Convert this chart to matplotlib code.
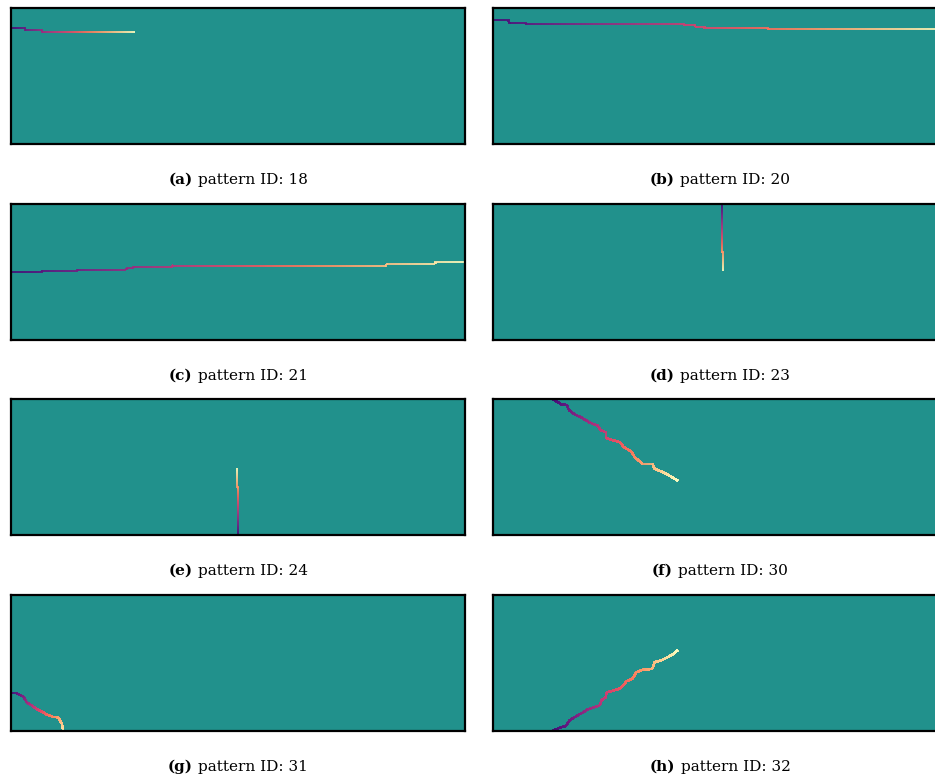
import numpy as np
import matplotlib
matplotlib.use("Agg")
import matplotlib.pyplot as plt
from matplotlib.collections import LineCollection
from matplotlib.offsetbox import TextArea, HPacker, AnchoredOffsetbox

# panel letters and pattern ids
letters = ["a", "b", "c", "d", "e", "f", "g", "h"]
pattern_ids = [18, 20, 21, 23, 24, 30, 31, 32]

# path vertices (x: 0..100 across, y: 0..30 from top)
path_18 = [(0, 4.4), (3.1, 4.9), (6.9, 5.4), (27.4, 5.4)]
path_20 = [(0, 2.7), (3.5, 3.3), (7.2, 3.6), (42.2, 3.8), (44.6, 4.2),
           (46.6, 4.4), (60.6, 4.7), (100, 4.7)]
path_21 = [(0, 15.0), (6.8, 14.7), (14.7, 14.5), (25.4, 14.2), (26.9, 13.8),
           (35.5, 13.6), (82.7, 13.2), (93.4, 12.9), (100, 12.9)]
path_23 = [(50.4, 0), (50.4, 10.6), (50.6, 14.8)]
path_24 = [(50.0, 30), (50.0, 19.5), (49.8, 15.3)]
path_30 = [(13.1, 0), (15.1, 1.2), (16.3, 1.3), (16.7, 2.4), (18.0, 3.4),
           (19.5, 4.1), (21.3, 5.2), (23.1, 5.9), (23.7, 6.9), (24.8, 7.3),
           (24.8, 8.6), (26.4, 9.1), (27.9, 9.5), (28.8, 10.6), (30.5, 11.6),
           (31.2, 12.8), (32.9, 14.3), (35.1, 14.3), (35.6, 15.4), (37.1, 16.0),
           (38.5, 16.7), (40.7, 18.0)]
path_31 = [(0, 21.7), (1.3, 21.7), (2.7, 22.4), (3.5, 23.7), (4.6, 24.4),
           (5.7, 25.2), (7.1, 25.9), (7.9, 26.4), (9.3, 26.9), (10.4, 27.0),
           (11.2, 28.4), (11.5, 29.9), (12.6, 29.9)]
path_32 = [(13.2, 29.9), (14.7, 29.3), (16.0, 28.9), (16.9, 27.6), (18.4, 26.7),
           (19.8, 25.9), (20.9, 25.2), (22.4, 24.7), (23.5, 24.4), (23.9, 23.2),
           (24.8, 22.6), (25.0, 21.5), (26.4, 21.1), (27.8, 20.7), (29.0, 19.6),
           (29.4, 19.0), (30.7, 18.5), (31.6, 17.0), (33.0, 16.5), (35.1, 16.3),
           (35.6, 14.8), (37.1, 14.4), (38.5, 13.7), (39.6, 13.1), (40.7, 12.2)]
paths = [path_18, path_20, path_21, path_23, path_24, path_30, path_31, path_32]
# the first five move along the grid in straight steps
stepped = [True, True, True, True, True, False, False, False]


def stair(verts):
    # grid path: move across then down/up between vertices
    out = [verts[0]]
    for (x0, y0), (x1, y1) in zip(verts[:-1], verts[1:]):
        out.append((x1, y0))
        out.append((x1, y1))
    return np.array(out, dtype=float)


def gradient_segments(pts, n=400):
    seg_len = np.hypot(*np.diff(pts, axis=0).T)
    cum = np.concatenate([[0], np.cumsum(seg_len)])
    t = np.linspace(0, cum[-1], n)
    x = np.interp(t, cum, pts[:, 0])
    y = np.interp(t, cum, pts[:, 1])
    p = np.column_stack([x, y]).reshape(-1, 1, 2)
    return np.concatenate([p[:-1], p[1:]], axis=1), t[:-1] / cum[-1]


W, H = 935, 777
fig = plt.figure(figsize=(W / 100, H / 100), dpi=100)
cmap = plt.get_cmap("magma")

col_x = [11, 493]
row_top = [8, 204, 399, 595]
pw, ph = 454, 136

for i in range(8):
    r, c = divmod(i, 2)
    ax = fig.add_axes([col_x[c] / W, 1 - (row_top[r] + ph) / H, pw / W, ph / H])
    ax.set_facecolor("#21918c")
    ax.set_xlim(0, 100)
    ax.set_ylim(30, 0)
    ax.set_xticks([])
    ax.set_yticks([])
    for s in ax.spines.values():
        s.set_linewidth(1.6)
        s.set_color("black")

    pts = stair(paths[i]) if stepped[i] else np.array(paths[i], dtype=float)
    segs, frac = gradient_segments(pts)
    lc = LineCollection(segs, colors=cmap(0.22 + 0.78 * frac), linewidths=1.15,
                        alpha=0.9, antialiased=False, capstyle="butt")
    ax.add_collection(lc)

    t1 = TextArea("(%s)" % letters[i],
                  textprops=dict(fontsize=11, family="DejaVu Serif", fontweight="bold"))
    t2 = TextArea("pattern ID: %d" % pattern_ids[i],
                  textprops=dict(fontsize=11, family="DejaVu Serif"))
    box = HPacker(children=[t1, t2], align="baseline", pad=0, sep=4)
    anc = AnchoredOffsetbox(loc="center", child=box, pad=0, borderpad=0, frameon=False,
                            bbox_to_anchor=(0.5, -36 / ph), bbox_transform=ax.transAxes)
    ax.add_artist(anc)

fig.savefig("out.png", dpi=100)
